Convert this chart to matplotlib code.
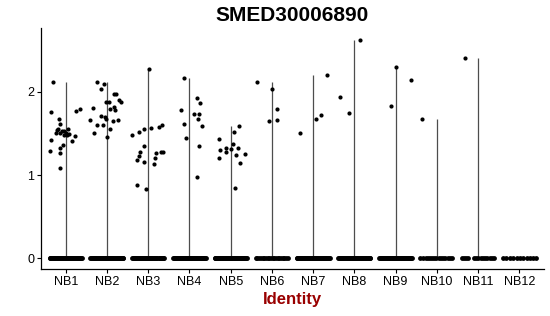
import numpy as np
import matplotlib
matplotlib.use("Agg")
import matplotlib.pyplot as plt

plt.rcParams['font.family'] = ['Liberation Sans', 'DejaVu Sans']

groups = ["NB1", "NB2", "NB3", "NB4", "NB5", "NB6", "NB7", "NB8", "NB9", "NB10", "NB11", "NB12"]

#-------------------------------expressing cells: (jitter offset, expression)-------------------------------
nb1 = [(-0.31, 2.12), (-0.36, 1.76), (-0.35, 1.42), (-0.37, 1.29), (-0.17, 1.67), (-0.15, 1.62),
       (-0.21, 1.54), (-0.19, 1.55), (-0.24, 1.51), (-0.15, 1.51), (-0.09, 1.53), (-0.05, 1.53),
       (0.00, 1.51), (0.06, 1.55), (0.08, 1.50), (-0.05, 1.48), (0.04, 1.48), (-0.15, 1.33),
       (-0.06, 1.36), (-0.13, 1.26), (-0.15, 1.08), (0.15, 1.41), (0.22, 1.47), (0.24, 1.77),
       (0.34, 1.79)]
nb2 = [(-0.23, 2.12), (-0.08, 2.10), (-0.15, 2.04), (-0.33, 1.81), (-0.40, 1.66), (-0.31, 1.51),
       (-0.25, 1.60), (-0.14, 1.71), (-0.09, 1.60), (-0.04, 1.70), (-0.03, 1.68), (0.00, 1.46),
       (-0.03, 1.88), (0.05, 1.88), (0.08, 1.55), (0.08, 1.80), (0.14, 1.65), (0.18, 1.98),
       (0.23, 1.97), (0.18, 1.82), (0.19, 1.78), (0.26, 1.66), (0.30, 1.90), (0.33, 1.88)]
nb3 = [(0.03, 2.28), (-0.40, 1.48), (-0.22, 1.52), (-0.11, 1.56), (0.07, 1.57), (0.26, 1.58),
       (0.33, 1.60), (-0.10, 1.35), (-0.20, 1.28), (-0.23, 1.23), (-0.26, 1.18), (-0.09, 1.16),
       (0.19, 1.26), (0.17, 1.20), (0.14, 1.13), (0.32, 1.28), (0.37, 1.28), (-0.27, 0.88),
       (-0.05, 0.83)]
nb4 = [(-0.14, 2.17), (-0.21, 1.78), (-0.12, 1.62), (-0.09, 1.45), (0.11, 1.74), (0.24, 1.74),
       (0.19, 1.93), (0.26, 1.87), (0.20, 1.68), (0.30, 1.59), (0.24, 1.35), (0.18, 0.98)]
nb5 = [(-0.28, 1.43), (-0.25, 1.30), (-0.28, 1.20), (-0.11, 1.33), (-0.12, 1.28), (0.01, 1.31),
       (0.05, 1.38), (0.09, 1.52), (0.20, 1.59), (0.18, 1.32), (0.12, 1.24), (0.23, 1.14),
       (0.35, 1.25), (0.11, 0.84)]
nb6 = [(-0.35, 2.12), (0.01, 2.04), (-0.06, 1.65), (0.13, 1.80), (0.13, 1.66)]
nb7 = [(-0.33, 1.51), (0.08, 1.68), (0.18, 1.72), (0.33, 2.21)]
nb8 = [(-0.36, 1.94), (-0.14, 1.75), (0.14, 2.63)]
nb9 = [(-0.12, 1.83), (0.02, 2.30), (0.38, 2.14)]
nb10 = [(-0.35, 1.67)]
nb11 = [(-0.32, 2.41)]
nb12 = []
expressed = [nb1, nb2, nb3, nb4, nb5, nb6, nb7, nb8, nb9, nb10, nb11, nb12]

#-------------------------------non-expressing cells (value 0): jitter offsets-------------------------------
dense_a = [-0.39, -0.37, -0.35, -0.33, -0.31, -0.29, -0.27, -0.25, -0.22, -0.20, -0.18, -0.16,
           -0.14, -0.12, -0.10, -0.08, -0.06, -0.04, -0.02, 0.00, 0.02, 0.04, 0.06, 0.08, 0.10,
           0.12, 0.14, 0.16, 0.18, 0.20, 0.22, 0.25, 0.27, 0.29, 0.31, 0.33, 0.35, 0.37, 0.39]
dense_b = [-0.40, -0.38, -0.36, -0.34, -0.32, -0.30, -0.28, -0.26, -0.23, -0.21, -0.19, -0.17,
           -0.15, -0.13, -0.11, -0.09, -0.07, -0.05, -0.03, -0.01, 0.01, 0.03, 0.05, 0.07, 0.09,
           0.11, 0.13, 0.15, 0.17, 0.19, 0.21, 0.24, 0.26, 0.28, 0.30, 0.32, 0.34, 0.36, 0.38, 0.40]
zeros_nb6 = [-0.39, -0.35, -0.31, -0.27, -0.22, -0.18, -0.14, -0.10, -0.06, -0.02, 0.02, 0.06,
             0.10, 0.14, 0.18, 0.22, 0.26, 0.30, 0.34, 0.38]
zeros_nb10 = [-0.40, -0.33, -0.27, -0.22, -0.17, -0.11, -0.06, -0.01, 0.05, 0.10, 0.15, 0.21,
              0.27, 0.32, 0.38]
zeros_nb11 = [-0.40, -0.35, -0.30, -0.25, -0.10, -0.04, 0.01, 0.06, 0.12, 0.17, 0.22, 0.28,
              0.33, 0.39]
zeros_nb12 = [-0.40, -0.32, -0.23, -0.15, -0.06, 0.03, 0.10, 0.18, 0.27, 0.33, 0.40]
zero_cells = [dense_a, dense_b, dense_a, dense_b, dense_a, zeros_nb6, dense_b, dense_a, dense_b,
              zeros_nb10, zeros_nb11, zeros_nb12]


fig = plt.figure(figsize=(5.5, 3.16), dpi=100)
ax = fig.add_axes([41 / 550, 47 / 316, 503 / 550, 241 / 316])

for i, (pts, zs) in enumerate(zip(expressed, zero_cells)):
	pos = i + 1
	if pts:
		vals = [v for _, v in pts]
		# violin is so narrow it collapses to a line
		ax.vlines(pos, 0, max(vals), color="#4d4d4d", lw=0.9, zorder=1)
		ax.scatter([pos + o for o, _ in pts], vals, s=9, color="black", linewidths=0, zorder=3)
	ax.scatter([pos + o for o in zs], np.zeros(len(zs)), s=12, color="black", linewidths=0, zorder=3)

ax.set_xlim(0.4, 12.6)
ax.set_ylim(-0.13, 2.77)
ax.set_xticks(range(1, 13))
ax.set_xticklabels(groups)
ax.set_yticks([0, 1, 2])
ax.tick_params(axis="both", labelsize=9, length=3, width=0.8, colors="black", pad=2)
for side in ["top", "right"]:
	ax.spines[side].set_visible(False)
for side in ["left", "bottom"]:
	ax.spines[side].set_linewidth(0.9)

ax.set_xlabel("Identity", fontsize=12, fontweight="bold", color="#990000", labelpad=3)
ax.set_title("SMED30006890", fontsize=15, fontweight="bold", pad=5)

fig.savefig("out.png", dpi=100)
